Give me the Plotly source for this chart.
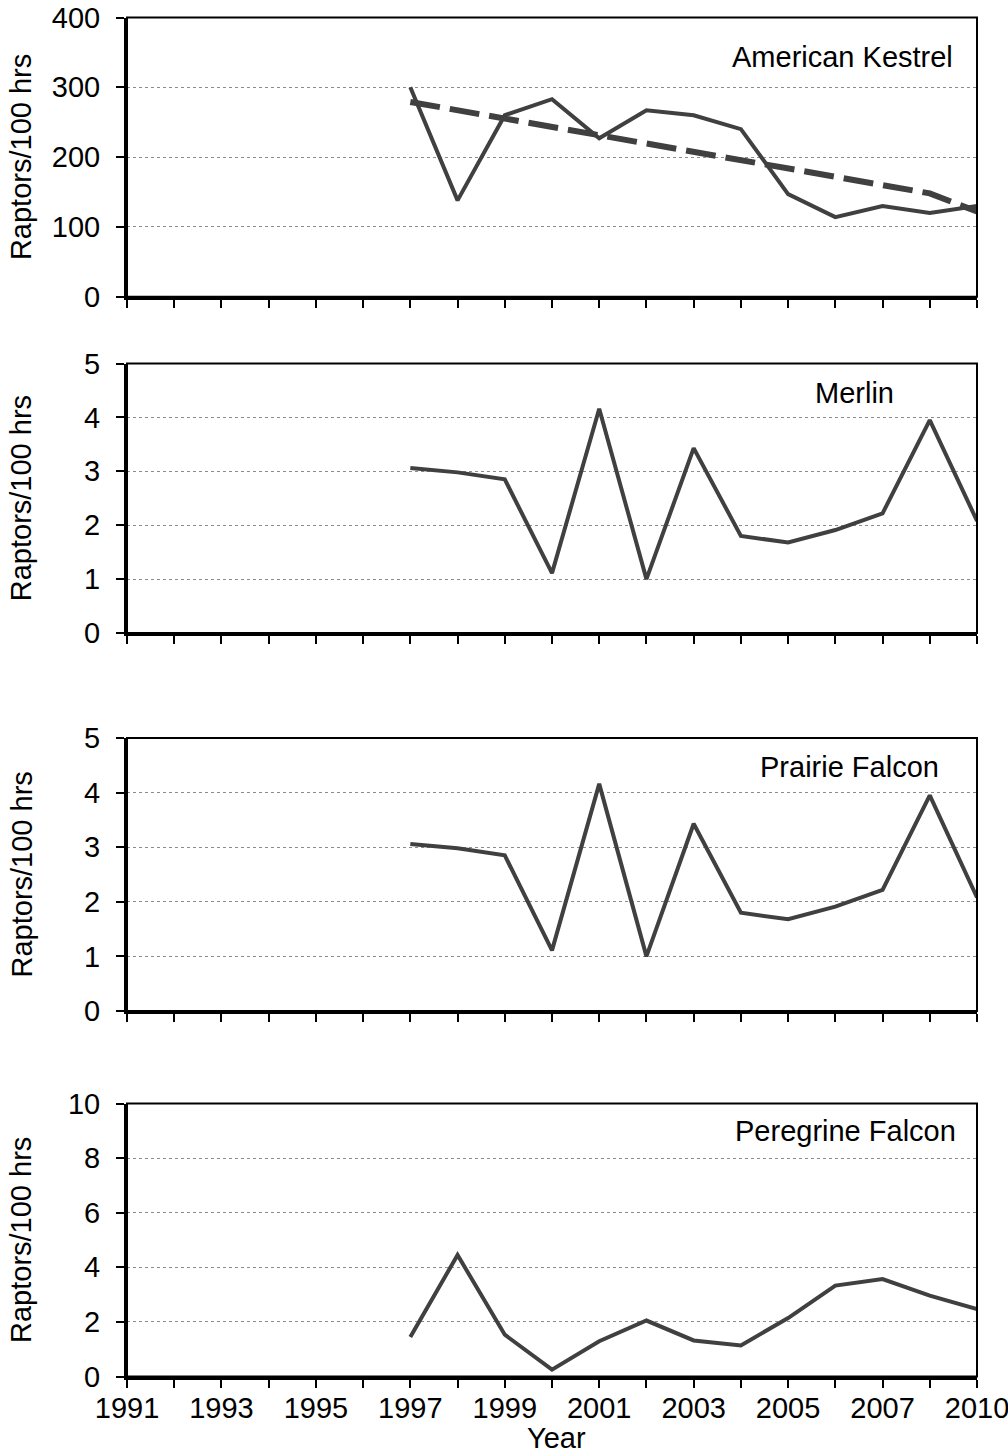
import plotly.graph_objects as go

# ---- data ----
categories = [str(y) for y in range(1991, 2009)] + ["2010"]
tick_labels = ["1991", "", "1993", "", "1995", "", "1997", "", "1999", "", "2001", "",
               "2003", "", "2005", "", "2007", "", "2010"]
data_years = ["1997", "1998", "1999", "2000", "2001", "2002", "2003", "2004",
              "2005", "2006", "2007", "2008", "2010"]

kestrel = [300, 138, 260, 283, 227, 267, 260, 240, 147, 114, 130, 120, 130]
kestrel_trend = [279, 267, 255, 243, 231, 219, 208, 196, 183, 171, 160, 148, 122]
merlin = [3.06, 2.98, 2.85, 1.11, 4.16, 1.0, 3.43, 1.80, 1.68, 1.91, 2.22, 3.95, 2.08]
prairie = [3.06, 2.98, 2.85, 1.11, 4.16, 1.0, 3.43, 1.80, 1.68, 1.91, 2.22, 3.95, 2.08]
peregrine = [1.45, 4.45, 1.53, 0.25, 1.29, 2.05, 1.32, 1.14, 2.14, 3.33, 3.57, 2.96, 2.47]

panel_names = ["American Kestrel", "Merlin", "Prairie Falcon", "Peregrine Falcon"]
y_title = "Raptors/100 hrs"
x_title = "Year"
y_ranges = [[0, 400], [0, 5], [0, 5], [0, 10]]
y_dticks = [100, 1, 1, 2]

# ---- layout geometry (page pixels) ----
W, H = 1008, 1456
x_left, x_right = 127, 977
panel_px = [(17.5, 296.7), (363.5, 633), (738, 1011), (1103.5, 1376.5)]
label_pos = [(842, 57), (854, 393), (849, 767), (845, 1131)]

FONT = "Liberation Sans, Arial, sans-serif"
FS = 29
LINE_COLOR = "#404040"

fig = go.Figure()
series = [kestrel, merlin, prairie, peregrine]

for i, s in enumerate(series):
    ax = "" if i == 0 else str(i + 1)
    fig.add_trace(go.Scatter(x=data_years, y=s, mode="lines",
                             line=dict(color=LINE_COLOR, width=4),
                             xaxis="x" + ax, yaxis="y" + ax, showlegend=False))
    if i == 0:
        fig.add_trace(go.Scatter(x=data_years, y=kestrel_trend, mode="lines",
                                 line=dict(color=LINE_COLOR, width=6, dash="30px,10px"),
                                 xaxis="x", yaxis="y", showlegend=False))

layout = dict(width=W, height=H, margin=dict(l=0, r=0, t=0, b=0),
              paper_bgcolor="white", plot_bgcolor="white",
              font=dict(family=FONT, size=FS, color="black"), showlegend=False)

shapes = []
annotations = []
for i in range(4):
    ax = "" if i == 0 else str(i + 1)
    top, bot = panel_px[i]
    ydom = [1 - bot / H, 1 - top / H]
    last = i == 3
    layout["xaxis" + ax] = dict(
        type="category", categoryorder="array", categoryarray=categories,
        range=[0, len(categories) - 1], domain=[x_left / W, x_right / W],
        anchor="y" + ax, tickmode="array", tickvals=categories, ticktext=tick_labels,
        showticklabels=last, ticks="outside", ticklen=8, tickwidth=2, tickcolor="black",
        showline=True, linecolor="black", linewidth=3, showgrid=False, zeroline=False,
        tickfont=dict(size=FS, family=FONT), ticklabelstandoff=-4,
        ticklabeloverflow="allow", automargin=False, fixedrange=True,
    )
    layout["yaxis" + ax] = dict(
        range=y_ranges[i], dtick=y_dticks[i], tick0=0, domain=ydom, anchor="x" + ax,
        ticks="outside", ticklen=8, tickwidth=2, tickcolor="black",
        showline=True, linecolor="black", linewidth=3,
        showgrid=True, gridcolor="#8c8c8c", gridwidth=1, griddash="dot", zeroline=False,
        tickfont=dict(size=FS, family=FONT), ticklabelstandoff=10,
        ticklabeloverflow="allow", automargin=False, fixedrange=True,
    )
    shapes.append(dict(type="rect", xref="x" + ax + " domain", yref="y" + ax + " domain",
                       x0=0, x1=1, y0=0, y1=1, line=dict(color="black", width=2),
                       layer="above"))
    lx, ly = label_pos[i]
    annotations.append(dict(text=panel_names[i], xref="paper", yref="paper",
                            x=lx / W, y=1 - ly / H,
                            xanchor="center", yanchor="middle",
                            showarrow=False, font=dict(size=FS, family=FONT, color="black")))
    annotations.append(dict(text=y_title, textangle=-90, xref="paper",
                            yref="y" + ax + " domain", x=21 / W, y=0.5,
                            xanchor="center", yanchor="middle", showarrow=False,
                            font=dict(size=FS, family=FONT, color="black")))

annotations.append(dict(text=x_title, xref="paper", yref="paper",
                        x=556 / W, y=0, xanchor="center", yanchor="bottom",
                        showarrow=False, font=dict(size=FS, family=FONT, color="black")))

layout["shapes"] = shapes
layout["annotations"] = annotations
fig.update_layout(**layout)
fig.write_html("out.html", config={"displayModeBar": False},
               post_script="document.body.style.margin='0';document.body.style.overflow='hidden';")
